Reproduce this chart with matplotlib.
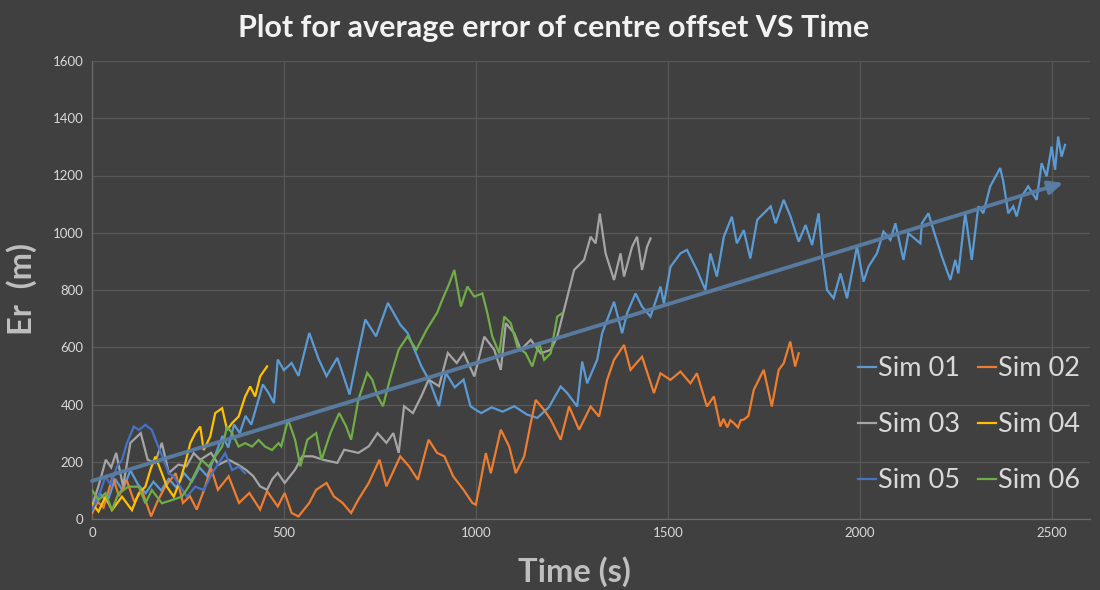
import matplotlib
matplotlib.use("Agg")
import matplotlib.pyplot as plt
import matplotlib.patheffects as pe
import numpy as np

# ---------------- data ----------------
series_names = ["Sim 01", "Sim 02", "Sim 03", "Sim 04", "Sim 05", "Sim 06"]
series_colors = ["#5B9BD5", "#ED7D31", "#A5A5A5", "#FFC000", "#4472C4", "#70AD47"]

sim01 = [(0,30),(20,90),(40,60),(60,140),(80,100),(100,170),(120,120),(140,90),(160,130),(180,100),
         (200,140),(220,110),(240,160),(260,130),(280,180),(300,150),(320,220),(340,290),(355,250),(370,330),
         (385,300),(400,360),(415,330),(430,400),(445,470),(460,440),(474,405),(484,557),(500,520),(520,545),
         (538,500),(566,650),(590,560),(611,499),(639,563),(655,500),(671,435),(690,560),(712,697),(740,638),
         (771,755),(803,679),(822,650),(858,534),(880,480),(904,394),(922,510),(945,460),(968,487),(986,394),
         (1000,381),(1014,370),(1041,390),(1070,375),(1100,394),(1133,365),(1160,353),(1190,390),(1221,463),(1238,440),
         (1264,393),(1277,550),(1290,474),(1316,556),(1329,649),(1360,759),(1381,649),(1394,719),(1416,788),(1433,742),
         (1455,707),(1481,812),(1490,753),(1507,881),(1533,928),(1550,940),(1576,870),(1598,800),(1611,928),(1628,847),
         (1646,986),(1667,1056),(1680,963),(1698,1009),(1715,910),(1733,1045),(1768,1092),(1781,1033),(1802,1115),(1820,1056),
         (1841,969),(1859,1027),(1876,957),(1893,1068),(1902,928),(1915,800),(1932,771),(1950,858),(1967,771),(1993,952),
         (2010,829),(2023,882),(2045,928),(2062,1004),(2080,975),(2093,1033),(2114,905),(2127,998),(2158,963),(2162,1033),
         (2179,1068),(2192,1010),(2214,917),(2236,835),(2249,905),(2257,858),(2275,1068),(2292,905),(2309,1092),(2322,1068),
         (2340,1162),(2366,1226),(2374,1180),(2387,1068),(2400,1092),(2409,1057),(2422,1127),(2439,1162),(2461,1115),(2474,1243),
         (2487,1197),(2500,1301),(2509,1220),(2517,1336),(2526,1266),(2535,1307)]

sim02 = [(0,20),(15,60),(30,40),(54,149),(70,80),(90,137),(110,60),(130,100),(154,9),(170,60),
         (191,114),(218,160),(237,56),(255,80),(273,33),(292,102),(310,178),(328,102),(356,149),(383,56),
         (410,91),(438,33),(456,97),(484,44),(502,91),(520,21),(538,9),(566,56),(584,102),(611,126),
         (630,79),(653,56),(675,21),(694,68),(721,126),(749,207),(767,114),(803,219),(826,184),(849,137),
         (877,277),(899,231),(918,219),(941,149),(968,102),(991,56),(1000,50),(1013,137),(1026,230),(1039,160),
         (1065,312),(1087,253),(1104,160),(1126,219),(1143,335),(1156,416),(1178,381),(1195,347),(1221,277),(1243,393),
         (1269,312),(1299,393),(1321,358),(1342,486),(1360,556),(1386,608),(1403,521),(1433,567),(1464,440),(1481,509),
         (1507,486),(1533,515),(1559,474),(1576,509),(1602,393),(1620,428),(1637,323),(1645,350),(1655,320),(1663,345),
         (1672,335),(1683,320),(1690,345),(1698,347),(1710,360),(1724,451),
         (1750,521),(1771,393),(1789,521),(1802,544),(1819,620),(1832,533),(1841,579)]

sim03 = [(0,44),(18,120),(36,207),(50,180),(63,231),(81,114),(100,266),(127,300),(145,207),(164,196),
         (182,266),(200,161),(225,190),(246,184),(265,230),(282,207),(310,231),(330,190),(356,207),(380,190),
         (401,172),(420,150),(438,114),(456,102),(470,140),(484,161),(502,126),(529,172),(548,219),(575,219),
         (602,207),(639,196),(657,242),(694,231),(721,254),(744,300),(767,266),(785,300),(799,231),(813,394),
         (836,370),(858,429),(877,487),(904,464),(927,580),(950,545),(968,580),(996,498),(1022,637),(1048,591),
         (1065,521),(1078,684),(1100,649),(1117,591),(1143,626),(1169,579),(1195,591),(1212,637),(1234,753),(1256,870),
         (1282,905),(1299,986),(1312,963),(1323,1067),(1338,928),(1360,835),(1377,928),(1386,847),(1407,951),(1420,986),
         (1433,870),(1446,951),(1455,980)]

sim04 = [(0,55),(17,26),(35,78),(52,31),(78,78),(104,31),(122,90),(139,113),(152,171),(165,218),
         (182,160),(195,113),(213,78),(230,136),(243,195),(256,265),(269,300),(282,323),(291,241),(308,288),
         (321,370),(339,387),(352,311),(365,335),(382,358),(399,428),(412,463),(425,428),(438,498),(456,533)]

sim05 = [(0,31),(17,78),(35,148),(48,120),(65,183),(78,206),(91,265),(109,323),(122,311),(139,329),
         (156,311),(169,265),(187,206),(200,160),(213,148),(230,113),(247,78),(269,113),(291,101),(313,160),
         (330,195),(347,230),(365,171),(382,183),(399,160)]

sim06 = [(0,101),(17,66),(35,90),(52,31),(69,90),(95,113),(122,113),(139,55),(156,101),(182,55),
         (208,66),(234,78),(252,113),(269,160),(286,206),(304,183),(321,218),(339,253),(352,323),(365,300),
         (382,253),(399,265),(417,253),(434,276),(451,253),(469,241),(486,265),(493,254),(511,347),(529,277),
         (543,184),(561,277),(584,300),(598,207),(621,300),(644,370),(662,324),(675,277),(694,417),(717,510),
         (730,487),(744,429),(758,394),(776,487),(799,592),(822,638),(845,592),(872,662),(899,720),(913,767),
         (930,820),(944,870),(961,742),(978,812),(996,777),(1017,788),(1030,719),(1043,637),(1061,579),(1074,707),
         (1091,684),(1108,602),(1130,579),(1147,533),(1165,614),(1178,556),(1195,579),(1212,707),(1225,719)]

all_series = [sim01, sim02, sim03, sim04, sim05, sim06]

# linear trend of Sim 01 (as read: intercept, slope, end time)
trend_intercept = 133
trend_slope = 0.4115
trend_end = 2530

x_ticks = [0, 500, 1000, 1500, 2000, 2500]
y_ticks = [0, 200, 400, 600, 800, 1000, 1200, 1400, 1600]

title_text = "Plot for average error of centre offset VS Time"
x_label = "Time (s)"
y_label = "Er  (m)"

# ---------------- style ----------------
BG = "#404040"
GRID = "#585858"
TXT = "#D9D9D9"
plt.rcParams['font.family'] = ['Lato', 'DejaVu Sans']

fig = plt.figure(figsize=(11, 5.9), dpi=100, facecolor=BG)
ax = fig.add_axes([92/1100, 1-519/590, (1090-92)/1100, (519-61)/590])
ax.set_facecolor(BG)

for data, name, col in zip(all_series, series_names, series_colors):
    t = [p[0] for p in data]
    v = [p[1] for p in data]
    ax.plot(t, v, color=col, lw=1.6, label=name, solid_joinstyle='miter',
            path_effects=[pe.Stroke(linewidth=7.5, foreground=col, alpha=0.10),
                          pe.Stroke(linewidth=4.5, foreground=col, alpha=0.18),
                          pe.Normal()], zorder=3)

# trend line with arrow head
y_start = trend_intercept
y_end = trend_intercept + trend_slope * trend_end
ax.annotate("", xy=(trend_end, y_end), xytext=(0, y_start),
            arrowprops=dict(arrowstyle="-|>,head_length=0.85,head_width=0.4",
                            color="#5A7EA4", lw=2.8, alpha=0.95, shrinkA=0, shrinkB=0),
            zorder=5)

ax.set_xlim(0, 2600)
ax.set_ylim(0, 1600)
ax.set_xticks(x_ticks)
ax.set_yticks(y_ticks)
ax.grid(True, color=GRID, lw=0.9)
ax.set_axisbelow(True)
for s in ['top', 'right']:
    ax.spines[s].set_visible(False)
for s in ['left', 'bottom']:
    ax.spines[s].set_color("#6A6A6A")
    ax.spines[s].set_linewidth(0.9)
ax.tick_params(axis='both', length=0, colors=TXT, labelsize=9.5, pad=6)

fig.text(554/1100, 1-28/590, title_text, ha='center', va='center',
         fontsize=22, fontweight='bold', color="#F2F2F2")
fig.text(574/1100, 1-572/590, x_label, ha='center', va='center',
         fontsize=23.5, fontweight='bold', color="#BFBFBF")
fig.text(22/1100, 1-289/590, y_label, ha='center', va='center', rotation=90,
         fontsize=23.5, fontweight='bold', color="#BFBFBF")

handles, labels = ax.get_legend_handles_labels()
for h in handles:
    h.set_path_effects([])
order = [0, 2, 4, 1, 3, 5]   # row-wise filling like the reference
leg = ax.legend([handles[i] for i in order], [labels[i] for i in order], ncol=2, loc='upper left',
                bbox_to_anchor=(858/1100, 1-356/590), bbox_transform=fig.transFigure,
                frameon=False, fontsize=19.5, handlelength=0.67, handletextpad=0.08,
                columnspacing=0.65, labelspacing=1.15, borderpad=0, borderaxespad=0)
for t in leg.get_texts():
    t.set_color(TXT)

fig.savefig("out.png", dpi=100, facecolor=BG)
